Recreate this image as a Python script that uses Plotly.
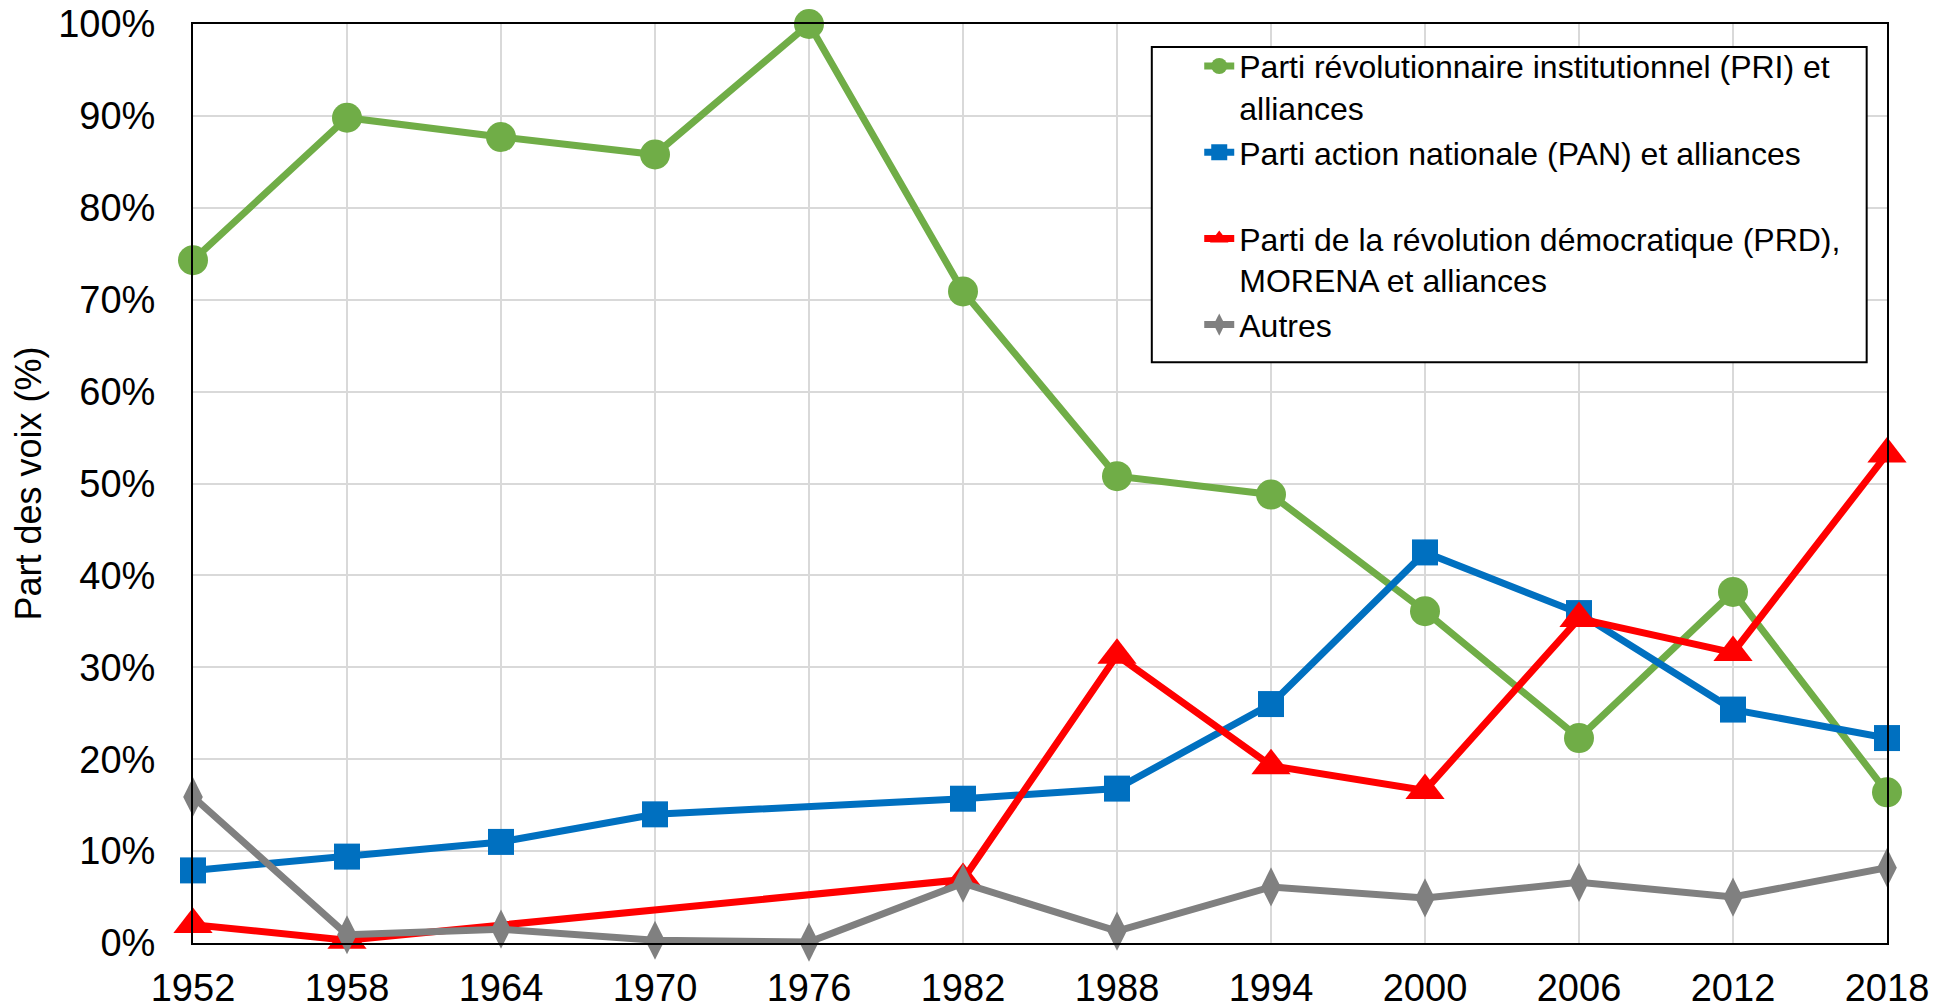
import plotly.graph_objects as go

# Élections présidentielles mexicaines, part des voix (%)
years = [1952, 1958, 1964, 1970, 1976, 1982, 1988, 1994, 2000, 2006, 2012, 2018]

pri = [74.3, 89.8, 87.7, 85.8, 100.0, 70.9, 50.8, 48.8, 36.1, 22.3, 38.2, 16.4]
pan = [7.9, 9.4, 11.0, 14.0, None, 15.7, 16.8, 26.0, 42.5, 35.9, 25.4, 22.3]
prd = [2.0, 0.3, None, None, None, 6.9, 31.3, 19.3, 16.6, 35.3, 31.6, 53.2]
autres = [15.9, 0.9, 1.5, 0.3, 0.1, 6.5, 1.3, 6.1, 4.9, 6.6, 5.0, 8.2]

names = [
    "Parti révolutionnaire institutionnel (PRI) et<br>alliances",
    "Parti action nationale (PAN) et alliances<br> ",
    "Parti de la révolution démocratique (PRD),<br>MORENA et alliances",
    "Autres",
]

FONT = "Arial, Liberation Sans, sans-serif"

series = [
    (pri, names[0], "#70AD47", "circle", 30),
    (pan, names[1], "#0070C0", "square", 26),
    (prd, names[2], "#FF0000", "triangle-up", 34),
    (autres, names[3], "#808080", "diamond-tall", 28),
]

fig = go.Figure()
for values, name, color, symbol, size in series:
    fig.add_trace(go.Scatter(
        x=years, y=values, name=name, mode="lines+markers",
        connectgaps=True, cliponaxis=False,
        line=dict(color=color, width=7),
        marker=dict(symbol=symbol, size=size, color=color),
    ))

# white legend box drawn as a shape so its size matches the original
fig.add_shape(
    type="rect", xref="paper", yref="paper",
    x0=0.566, x1=0.988, y0=0.632, y1=0.975,
    line=dict(color="black", width=2), fillcolor="white", layer="above",
)

# the page body adds an 8px offset, margins compensate for it
fig.update_layout(
    width=1950, height=1005,
    margin=dict(l=185, r=71, t=16, b=70),
    plot_bgcolor="white", paper_bgcolor="white",
    font=dict(family=FONT, size=38, color="black"),
    showlegend=True,
    legend=dict(
        x=0.594, y=0.984, xanchor="left", yanchor="top",
        bgcolor="rgba(0,0,0,0)", borderwidth=0,
        font=dict(family=FONT, size=32, color="black"),
        valign="top", tracegroupgap=0,
    ),
    xaxis=dict(
        range=[1952, 2018], tick0=1952, dtick=6,
        showgrid=True, gridcolor="#D9D9D9", gridwidth=1.5,
        showline=True, linecolor="black", linewidth=2, mirror=True,
        ticks="", ticklabelstandoff=10, zeroline=False, automargin=False,
        ticklabeloverflow="allow",
    ),
    yaxis=dict(
        range=[0, 100], tick0=0, dtick=10, ticksuffix="%",
        showgrid=True, gridcolor="#D9D9D9", gridwidth=1.5,
        showline=True, linecolor="black", linewidth=2, mirror=True,
        ticks="", ticklabelstandoff=28, zeroline=False, automargin=False,
        ticklabeloverflow="allow",
        title=dict(text="Part des voix (%)", font=dict(size=36), standoff=24),
    ),
)

fig.write_html("out.html")
